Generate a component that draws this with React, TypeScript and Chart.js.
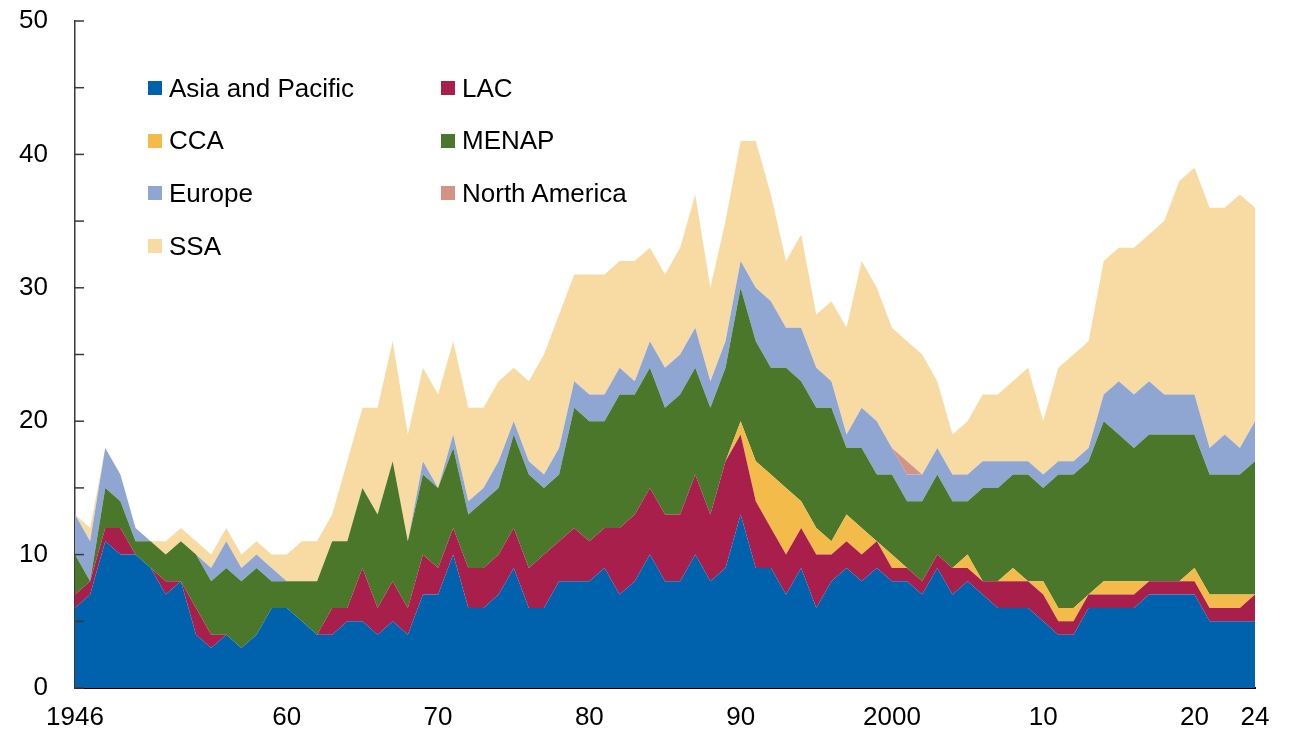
import React, { useEffect, useRef } from 'react';
import { Chart, registerables } from 'chart.js';

Chart.register(...registerables);

// ---- categories ----
const years: number[] = [];
for (let y = 1946; y <= 2024; y++) years.push(y);

// ---- series values (1946 .. 2024) ----
const asiaPacific = [
  6, 7, 11, 10, 10, 9, 7, 8, 4, 3,
  4, 3, 4, 6, 6, 5, 4, 4, 5, 5,
  4, 5, 4, 7, 7, 10, 6, 6, 7, 9,
  6, 6, 8, 8, 8, 9, 7, 8, 10, 8,
  8, 10, 8, 9, 13, 9, 9, 7, 9, 6,
  8, 9, 8, 9, 8, 8, 7, 9, 7, 8,
  7, 6, 6, 6, 5, 4, 4, 6, 6, 6,
  6, 7, 7, 7, 7, 5, 5, 5, 5,
];
const lac = [
  1, 1, 1, 2, 0, 0, 1, 0, 2, 1,
  0, 0, 0, 0, 0, 0, 0, 2, 1, 4,
  2, 3, 2, 3, 2, 2, 3, 3, 3, 3,
  3, 4, 3, 4, 3, 3, 5, 5, 5, 5,
  5, 6, 5, 8, 6, 5, 3, 3, 3, 4,
  2, 2, 2, 2, 1, 1, 1, 1, 2, 1,
  1, 2, 2, 2, 2, 1, 1, 1, 1, 1,
  1, 1, 1, 1, 1, 1, 1, 1, 2,
];
const cca = [
  0, 0, 0, 0, 0, 0, 0, 0, 0, 0,
  0, 0, 0, 0, 0, 0, 0, 0, 0, 0,
  0, 0, 0, 0, 0, 0, 0, 0, 0, 0,
  0, 0, 0, 0, 0, 0, 0, 0, 0, 0,
  0, 0, 0, 0, 1, 3, 4, 5, 2, 2,
  1, 2, 2, 0, 1, 0, 0, 0, 0, 1,
  0, 0, 1, 0, 1, 1, 1, 0, 1, 1,
  1, 0, 0, 0, 1, 1, 1, 1, 0,
];
const menap = [
  3, 0, 3, 2, 1, 2, 2, 3, 4, 4,
  5, 5, 5, 2, 2, 3, 4, 5, 5, 6,
  7, 9, 5, 6, 6, 6, 4, 5, 5, 7,
  7, 5, 5, 9, 9, 8, 10, 9, 9, 8,
  9, 8, 8, 7, 10, 9, 8, 9, 9, 9,
  10, 5, 6, 5, 6, 5, 6, 6, 5, 4,
  7, 7, 7, 8, 7, 10, 10, 10, 12, 11,
  10, 11, 11, 11, 10, 9, 9, 9, 10,
];
const europe = [
  3, 3, 3, 2, 1, 0, 0, 0, 0, 1,
  2, 1, 1, 1, 0, 0, 0, 0, 0, 0,
  0, 0, 0, 1, 0, 1, 1, 1, 2, 1,
  1, 1, 2, 2, 2, 2, 2, 1, 2, 3,
  3, 3, 2, 2, 2, 4, 5, 3, 4, 3,
  2, 1, 3, 4, 2, 2, 2, 2, 2, 2,
  2, 2, 1, 1, 1, 1, 1, 1, 2, 4,
  4, 4, 3, 3, 3, 2, 3, 2, 3,
];
const northAmerica = [
  0, 0, 0, 0, 0, 0, 0, 0, 0, 0,
  0, 0, 0, 0, 0, 0, 0, 0, 0, 0,
  0, 0, 0, 0, 0, 0, 0, 0, 0, 0,
  0, 0, 0, 0, 0, 0, 0, 0, 0, 0,
  0, 0, 0, 0, 0, 0, 0, 0, 0, 0,
  0, 0, 0, 0, 0, 1, 0, 0, 0, 0,
  0, 0, 0, 0, 0, 0, 0, 0, 0, 0,
  0, 0, 0, 0, 0, 0, 0, 0, 0,
];
const ssa = [
  0, 1, 0, 0, 0, 0, 1, 1, 1, 1,
  1, 1, 1, 1, 2, 3, 3, 2, 6, 6,
  8, 9, 8, 7, 7, 7, 7, 6, 6, 4,
  6, 9, 10, 8, 9, 9, 8, 9, 7, 7,
  8, 10, 7, 9, 9, 11, 8, 5, 7, 4,
  6, 8, 11, 10, 9, 9, 9, 5, 3, 4,
  5, 5, 6, 7, 4, 7, 8, 8, 10, 10,
  11, 11, 13, 16, 17, 18, 17, 19, 16,
];

const seriesNames = ['Asia and Pacific', 'LAC', 'CCA', 'MENAP', 'Europe', 'North America', 'SSA'];
const seriesValues = [asiaPacific, lac, cca, menap, europe, northAmerica, ssa];
const seriesColors = ['#0061ad', '#a91f4b', '#f3bb4a', '#4a7729', '#8fa6d2', '#d49385', '#f8dba3'];

// ---- tick labels ----
const xTickYears = [1946, 1960, 1970, 1980, 1990, 2000, 2010, 2020, 2024];
const xTickText = ['1946', '60', '70', '80', '90', '2000', '10', '20', '24'];

const FONT = 'Arial, "Liberation Sans", sans-serif';

const innerTicks = {
  id: 'innerTicks',
  afterDraw(chart: any) {
    const ys = chart.scales.y;
    const { left } = chart.chartArea;
    const ctx = chart.ctx;
    ctx.save();
    ctx.strokeStyle = '#3a3a3a';
    ctx.lineWidth = 1.5;
    ys.ticks.forEach((t: any) => {
      const py = ys.getPixelForValue(t.value);
      ctx.beginPath();
      ctx.moveTo(left, py);
      ctx.lineTo(left + 9, py);
      ctx.stroke();
    });
    ctx.restore();
  },
};

export default function App() {
  const canvasRef = useRef<HTMLCanvasElement | null>(null);

  useEffect(() => {
    if (!canvasRef.current) return;
    const chart = new Chart(canvasRef.current, {
      type: 'line',
      data: {
        labels: years,
        datasets: seriesNames.map((name, i) => ({
          label: name,
          data: seriesValues[i],
          backgroundColor: seriesColors[i],
          borderColor: seriesColors[i],
          borderWidth: 0,
          pointRadius: 0,
          pointHoverRadius: 0,
          tension: 0,
          fill: i === 0 ? 'origin' : '-1',
        })),
      },
      options: {
        animation: false,
        responsive: false,
        maintainAspectRatio: false,
        devicePixelRatio: 1,
        layout: { padding: { left: 0, right: 34, top: 21, bottom: 0 } },
        plugins: {
          legend: { display: false },
          tooltip: { enabled: false },
        },
        scales: {
          x: {
            type: 'category',
            offset: false,
            grid: { display: false, drawTicks: false },
            border: { display: true, color: '#000', width: 2 },
            afterFit: (s: any) => { s.height = 46; },
            ticks: {
              autoSkip: false,
              maxRotation: 0,
              minRotation: 0,
              padding: 14,
              color: '#000',
              font: { family: FONT, size: 26 },
              callback: function (this: any, val: any) {
                const yr = Number(this.getLabelForValue(val));
                const k = xTickYears.indexOf(yr);
                return k >= 0 ? xTickText[k] : '';
              },
            },
          },
          y: {
            stacked: true,
            min: 0,
            max: 50,
            grid: { display: false, drawTicks: false },
            border: { display: true, color: '#3a3a3a', width: 1.5 },
            afterFit: (s: any) => {
              s.width = 75;
              s.paddingTop = 0;
              s.paddingBottom = 0;
            },
            ticks: {
              stepSize: 5,
              padding: 27,
              color: '#000',
              font: { family: FONT, size: 26 },
              callback: (v: any) => (Number(v) % 10 === 0 ? String(v) : ''),
            },
          },
        },
      },
      plugins: [innerTicks],
    });
    return () => chart.destroy();
  }, []);

  return (
    <div style={{ position: 'absolute', left: 0, top: 0, width: 1289, height: 734, background: '#fff' }}>
      <canvas ref={canvasRef} width={1289} height={734} style={{ display: 'block' }} />
      {seriesNames.map((name, i) => {
        const col = i % 2;
        const row = Math.floor(i / 2);
        const boxLeft = col === 0 ? 148 : 441;
        const cy = 88 + row * 52.7;
        return (
          <div
            key={name}
            style={{
              position: 'absolute',
              left: boxLeft,
              top: cy - 16,
              height: 32,
              display: 'flex',
              alignItems: 'center',
              fontFamily: FONT,
              fontSize: 26,
              color: '#000',
              whiteSpace: 'nowrap',
            }}
          >
            <span style={{ display: 'inline-block', width: 14, height: 14, background: seriesColors[i], marginRight: 7 }} />
            <span>{name}</span>
          </div>
        );
      })}
    </div>
  );
}
